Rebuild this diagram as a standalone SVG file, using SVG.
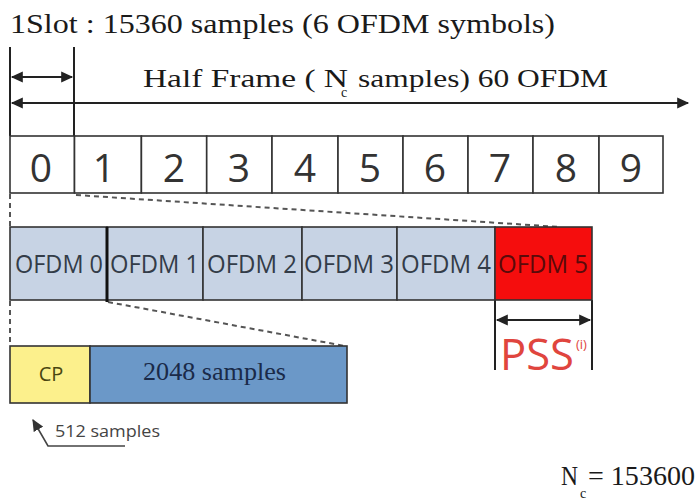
<svg xmlns="http://www.w3.org/2000/svg" width="696" height="500" viewBox="0 0 696 500">
<style>
.serif{font-family:"Liberation Serif","DejaVu Serif",serif;fill:#1a1a1a}
.sans{font-family:"Open Sans","Noto Sans","Liberation Sans",sans-serif}
.ln{stroke:#222;stroke-width:2;fill:none}
.cell{fill:#fff;stroke:#333;stroke-width:1.6}
.digit{font-family:"Open Sans","Noto Sans",sans-serif;font-size:39px;fill:#333;text-anchor:middle}
.ofdm{fill:#c7d3e4;stroke:#333;stroke-width:1.6}
.otxt{font-family:"Open Sans","Noto Sans",sans-serif;font-size:26px;fill:#333c48}
.dash{stroke:#555;stroke-width:2;stroke-dasharray:5 4;fill:none}
</style>
<defs>
<marker id="ah2" viewBox="0 0 10 10" refX="9" refY="5" markerWidth="14" markerHeight="12" orient="auto-start-reverse" markerUnits="userSpaceOnUse">
<path d="M0,0.5 L10,5 L0,9.5 z" fill="#222"/>
</marker>
<marker id="ag" viewBox="0 0 10 10" refX="9" refY="5" markerWidth="12" markerHeight="12" orient="auto" markerUnits="userSpaceOnUse">
<path d="M0,0.5 L10,5 L0,9.5 z" fill="#333"/>
</marker>
</defs>

<g id="titles">
<text class="serif" x="10" y="33" font-size="27" textLength="545" lengthAdjust="spacingAndGlyphs">1Slot : 15360 samples (6 OFDM symbols)</text>
<text class="serif" x="143" y="87" font-size="26" textLength="205" lengthAdjust="spacingAndGlyphs">Half Frame ( N</text>
<text class="serif" x="341" y="97" font-size="14">c</text>
<text class="serif" x="358" y="87" font-size="26" textLength="250" lengthAdjust="spacingAndGlyphs">samples) 60 OFDM</text>
</g>

<g id="connectors">
<line class="ln" x1="10" y1="47" x2="10" y2="136"/>
<line class="ln" x1="74" y1="47" x2="74" y2="136"/>
<line class="ln" x1="12" y1="77" x2="72" y2="77" marker-start="url(#ah2)" marker-end="url(#ah2)"/>
<line class="ln" x1="12" y1="103" x2="688" y2="103" marker-start="url(#ah2)" marker-end="url(#ah2)"/>
<line class="dash" x1="10" y1="194" x2="10" y2="227"/>
<line class="dash" x1="76" y1="195" x2="560" y2="227"/>
<line class="dash" x1="10" y1="301" x2="10" y2="346"/>
<line class="dash" x1="108" y1="302" x2="345" y2="346"/>
<line class="ln" x1="495" y1="300" x2="495" y2="370"/>
<line class="ln" x1="592" y1="300" x2="592" y2="370"/>
<line class="ln" x1="497" y1="320" x2="590" y2="320" marker-start="url(#ah2)" marker-end="url(#ah2)"/>
<polyline points="125,446 48,446 33,420" stroke="#444" stroke-width="1.6" fill="none" marker-end="url(#ag)"/>
</g>

<g id="frame">
<rect class="cell" x="10" y="136" width="64.5" height="57"/>
<rect class="cell" x="74.5" y="136" width="66.9" height="57"/>
<rect class="cell" x="141.4" y="136" width="65.3" height="57"/>
<rect class="cell" x="206.7" y="136" width="65.3" height="57"/>
<rect class="cell" x="272" y="136" width="66" height="57"/>
<rect class="cell" x="338" y="136" width="65" height="57"/>
<rect class="cell" x="403" y="136" width="65" height="57"/>
<rect class="cell" x="468" y="136" width="65" height="57"/>
<rect class="cell" x="533" y="136" width="66" height="57"/>
<rect class="cell" x="599" y="136" width="64" height="57"/>
<text class="digit" x="41" y="182">0</text>
<text class="digit" x="104" y="182">1</text>
<text class="digit" x="174" y="182">2</text>
<text class="digit" x="239" y="182">3</text>
<text class="digit" x="305" y="182">4</text>
<text class="digit" x="370" y="182">5</text>
<text class="digit" x="435" y="182">6</text>
<text class="digit" x="500" y="182">7</text>
<text class="digit" x="566" y="182">8</text>
<text class="digit" x="631" y="182">9</text>
</g>

<g id="ofdm0"><rect class="ofdm" x="10" y="227" width="97" height="73"/><text class="otxt" x="15" y="273" textLength="88" lengthAdjust="spacingAndGlyphs">OFDM 0</text></g>
<g id="ofdm1"><rect class="ofdm" x="107" y="227" width="96" height="73"/><text class="otxt" x="110" y="273" textLength="89" lengthAdjust="spacingAndGlyphs">OFDM 1</text></g>
<g id="ofdm2"><rect class="ofdm" x="203" y="227" width="99" height="73"/><text class="otxt" x="207" y="273" textLength="90" lengthAdjust="spacingAndGlyphs">OFDM 2</text></g>
<g id="ofdm3"><rect class="ofdm" x="302" y="227" width="95" height="73"/><text class="otxt" x="304" y="273" textLength="90" lengthAdjust="spacingAndGlyphs">OFDM 3</text></g>
<g id="ofdm4"><rect class="ofdm" x="397" y="227" width="98" height="73"/><text class="otxt" x="401" y="273" textLength="90" lengthAdjust="spacingAndGlyphs">OFDM 4</text></g>
<g id="ofdm5"><rect x="495" y="227" width="97" height="73" fill="#f50d0d" stroke="#333" stroke-width="1.6"/><text class="otxt" x="498" y="273" textLength="90" lengthAdjust="spacingAndGlyphs" style="fill:#5a0a0a">OFDM 5</text></g>
<line x1="107" y1="227" x2="107" y2="302" stroke="#111" stroke-width="3"/>

<g id="pss">
<text class="sans" x="500" y="370" font-size="44" fill="#e0453e" textLength="74" lengthAdjust="spacingAndGlyphs">PSS</text>
<text class="sans" x="576" y="349" font-size="13" fill="#e0453e">(i)</text>
</g>

<g id="cp"><rect x="10" y="346" width="80" height="57" fill="#fcf08c" stroke="#333" stroke-width="1.6"/><text class="sans" x="51" y="381" font-size="20" fill="#4a4610" text-anchor="middle">CP</text></g>
<g id="body"><rect x="90" y="346" width="257" height="57" fill="#6b98c8" stroke="#333" stroke-width="1.6"/><text class="serif" x="143" y="380" font-size="26" style="fill:#1a2a48" textLength="143" lengthAdjust="spacingAndGlyphs">2048 samples</text></g>

<text class="sans" x="55" y="437" font-size="17" fill="#444" textLength="105" lengthAdjust="spacingAndGlyphs">512 samples</text>

<g id="nc">
<text class="serif" x="561" y="485" font-size="27" textLength="17" lengthAdjust="spacingAndGlyphs">N</text>
<text class="serif" x="580" y="498" font-size="14">c</text>
<text class="serif" x="588" y="485" font-size="27" textLength="107" lengthAdjust="spacingAndGlyphs">= 153600</text>
</g>
</svg>
